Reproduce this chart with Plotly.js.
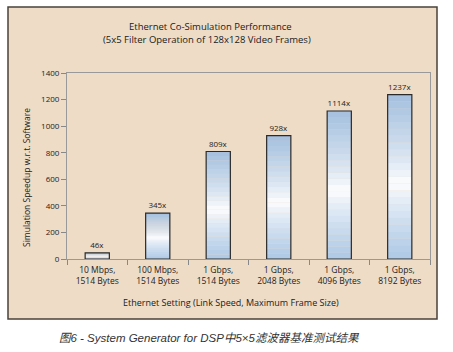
<!DOCTYPE html>
<html>
<head>
<meta charset="utf-8">
<script src="https://cdn.plot.ly/plotly-3.0.1.min.js"></script>
<style>html,body{margin:0;padding:0;background:#fff;}#chart{width:453px;height:352px;}</style>
</head>
<body>
<div id="chart"></div>
<script>
const categories = ['10 Mbps,<br>1514 Bytes', '100 Mbps,<br>1514 Bytes', '1 Gbps,<br>1514 Bytes', '1 Gbps,<br>2048 Bytes', '1 Gbps,<br>4096 Bytes', '1 Gbps,<br>8192 Bytes'];
const speedup = [46, 345, 809, 928, 1114, 1237];
const barLabels = ['46x', '345x', '809x', '928x', '1114x', '1237x'];
const yTicks = [0, 200, 400, 600, 800, 1000, 1200, 1400];

const W = 453, H = 352;
const mL = 67, mR = 23, mT = 73, mB = 93;
const pw = W - mL - mR, ph = H - mT - mB;
const px = x => (x - mL) / pw;
const py = y => (H - mB - y) / ph;

// gradient segments drawn as overlaid bars (shading only)
const NSEG = 24;
const topBlue = [164, 191, 222], botBlue = [174, 200, 229];
function segColor(f) {
  const w = 0.46;
  let t, c;
  if (f < w) { t = (w - f) / w; c = botBlue; } else { t = (f - w) / (1 - w); c = topBlue; }
  t = Math.pow(t, 0.75);
  const r = Math.round(255 + (c[0] - 255) * t);
  const g = Math.round(255 + (c[1] - 255) * t);
  const b = Math.round(255 + (c[2] - 255) * t);
  return `rgb(${r},${g},${b})`;
}
const traces = [];
for (let i = 0; i < NSEG; i++) {
  traces.push({
    type: 'bar', x: categories,
    base: speedup.map(v => v * i / NSEG),
    y: speedup.map(v => v / NSEG * 1.02),
    width: 0.4,
    marker: {color: segColor((i + 0.5) / NSEG), line: {width: 0}},
    hoverinfo: 'skip', showlegend: false
  });
}
traces.push({
  type: 'bar', x: categories, y: speedup, width: 0.4,
  marker: {color: 'rgba(0,0,0,0)', line: {color: '#2a2a2a', width: 1.2}},
  text: barLabels, textposition: 'outside', cliponaxis: false,
  textfont: {family: 'Open Sans, sans-serif', size: 8, color: '#222'},
  showlegend: false
});

const layout = {
  width: W, height: H,
  margin: {l: mL, r: mR, t: mT, b: mB},
  paper_bgcolor: '#ffffff', plot_bgcolor: '#fbf7f1',
  barmode: 'overlay',
  font: {family: 'Open Sans, sans-serif', size: 8, color: '#222'},
  showlegend: false,
  xaxis: {
    type: 'category', tickson: 'boundaries', ticks: 'outside', ticklen: 5, tickcolor: '#888',
    showline: true, linecolor: '#999', linewidth: 1, mirror: true, ticklabelstandoff: 3,
    tickfont: {size: 8.5, color: '#222'}, showgrid: false, fixedrange: true
  },
  yaxis: {
    range: [0, 1400], tickvals: yTicks, ticks: 'outside', ticklen: 5, tickcolor: '#888',
    showline: true, linecolor: '#999', linewidth: 1, mirror: true,
    showgrid: false, zeroline: false, tickfont: {size: 8, color: '#222'}, fixedrange: true
  },
  shapes: [
    {type: 'rect', xref: 'paper', yref: 'paper', layer: 'below',
     x0: px(8), x1: px(437), y0: py(319), y1: py(7),
     fillcolor: '#eedcc6', line: {color: '#4a423a', width: 1.5}}
  ],
  annotations: [
    {xref: 'paper', yref: 'paper', x: px(210), y: py(26), text: 'Ethernet Co-Simulation Performance',
     showarrow: false, font: {size: 9.5, color: '#1a1a1a'}, xanchor: 'center', yanchor: 'middle'},
    {xref: 'paper', yref: 'paper', x: px(207), y: py(40), text: '(5x5 Filter Operation of 128x128 Video Frames)',
     showarrow: false, font: {size: 9.5, color: '#1a1a1a'}, xanchor: 'center', yanchor: 'middle'},
    {xref: 'paper', yref: 'paper', x: px(26), y: py(178), text: 'Simulation Speedup w.r.t. Software', textangle: -90,
     showarrow: false, font: {size: 8.5, color: '#1a1a1a'}, xanchor: 'center', yanchor: 'middle'},
    {xref: 'paper', yref: 'paper', x: px(231), y: py(302), text: 'Ethernet Setting (Link Speed, Maximum Frame Size)',
     showarrow: false, font: {size: 9, color: '#1a1a1a'}, xanchor: 'center', yanchor: 'middle'},
    {xref: 'paper', yref: 'paper', x: px(209), y: py(338), text: '<i>图6 - System Generator for DSP中5×5滤波器基准测试结果</i>',
     showarrow: false, font: {family: 'Liberation Sans, Noto Sans CJK SC, sans-serif', size: 11.5, color: '#333'}, xanchor: 'center', yanchor: 'middle'}
  ]
};
Plotly.newPlot('chart', traces, layout, {displayModeBar: false, staticPlot: true});
</script>
</body>
</html>
